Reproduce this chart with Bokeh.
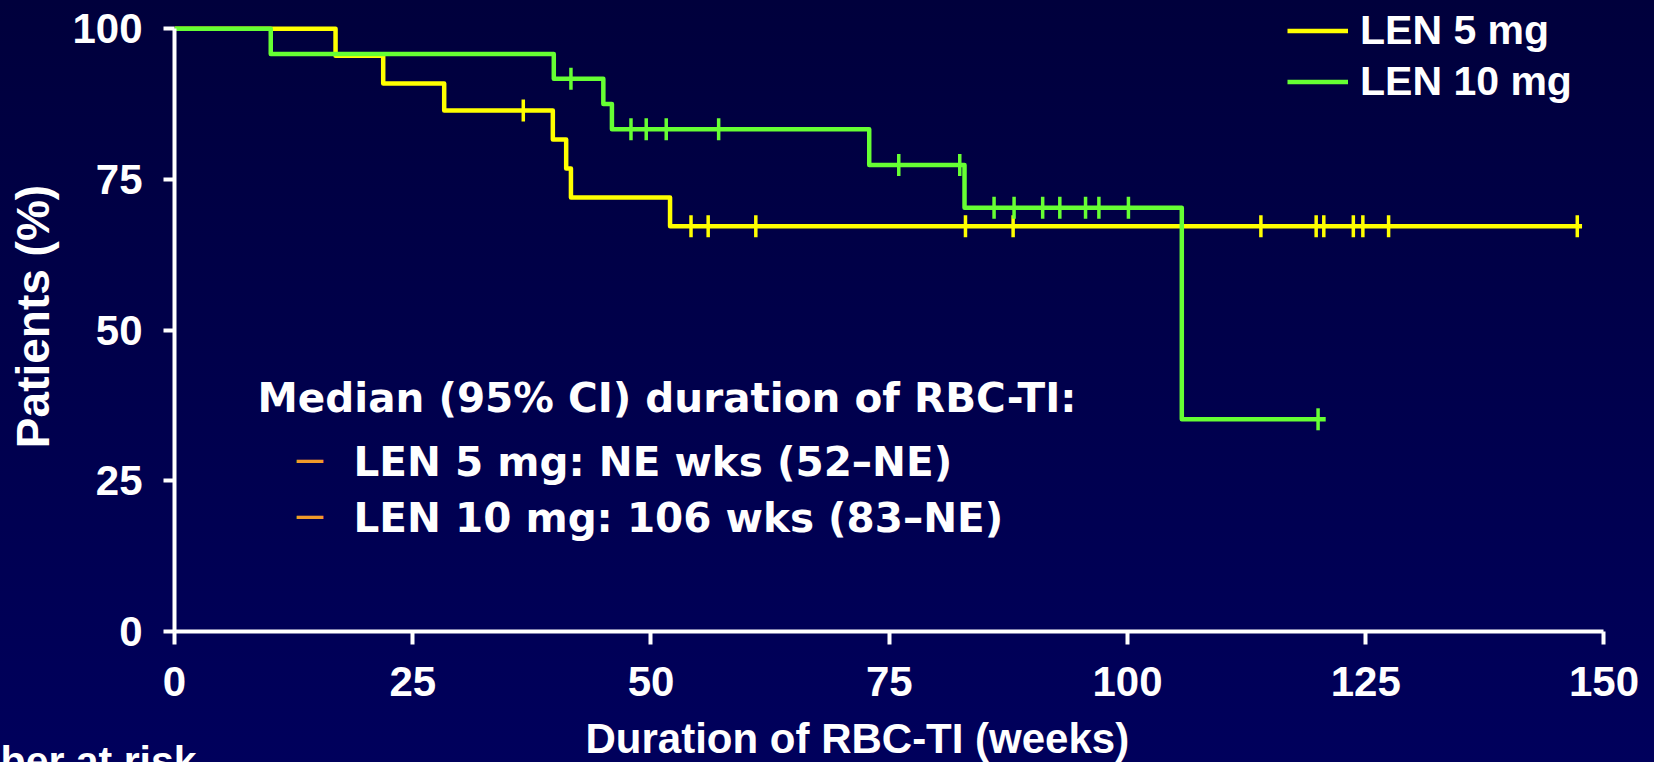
import numpy as np
from bokeh.plotting import figure
from bokeh.models import Range1d, FixedTicker, Label, Legend, LegendItem, Title
from bokeh.embed import file_html
from bokeh.resources import INLINE

# ---------------- data ----------------
series_names = ["LEN 5 mg", "LEN 10 mg"]
series_colors = ["#FFFF00", "#66FF33"]

# Kaplan-Meier steps (weeks, % of patients)
len5_times = [0, 16.9, 21.9, 28.3, 39.7, 41.1, 41.6, 52.0, 147.7]
len5_surv = [100, 95.5, 90.9, 86.4, 81.6, 76.8, 72.0, 67.2, 67.2]
len5_censor = [36.6, 54.2, 56.0, 61.0, 83.0, 88.0, 114.0, 119.8, 120.6,
               123.7, 124.7, 127.4, 147.2]

len10_times = [0, 10.1, 39.8, 45.0, 45.9, 72.9, 82.9, 105.7, 120.8]
len10_surv = [100, 95.8, 91.7, 87.5, 83.3, 77.4, 70.3, 35.2, 35.2]
len10_censor = [41.6, 47.9, 49.5, 51.6, 57.1, 76.0, 82.4, 86.0, 88.1, 91.1,
                92.9, 95.6, 97.0, 100.1, 120.0]

x_ticks = [0, 25, 50, 75, 100, 125, 150]
y_ticks = [0, 25, 50, 75, 100]

x_label = "Duration of RBC-TI (weeks)"
y_label = "Patients (%)"
median_title = "Median (95% CI) duration of RBC-TI:"
median_lines = ["LEN 5 mg: NE wks (52\u2013NE)", "LEN 10 mg: 106 wks (83\u2013NE)"]
risk_label = "Number at risk"


def censor_levels(times, surv, cens):
    t = np.asarray(times)
    s = np.asarray(surv)
    idx = np.searchsorted(t, np.asarray(cens), side="right") - 1
    return s[idx]


# ---------------- figure ----------------
p = figure(
    width=1654, height=762,
    x_range=Range1d(0, 151), y_range=Range1d(0, 104.5),
    output_backend="svg", toolbar_location=None, title=None,
    min_border_left=174, min_border_right=41,
    min_border_top=1, min_border_bottom=131,
    background_fill_alpha=0, border_fill_alpha=0,
    outline_line_color=None,
    styles={"background": "linear-gradient(to bottom, #00003c, #00005c)"},
)
p.grid.visible = False

FONT = "Liberation Sans"

for ax, ticks, bounds in ((p.xaxis, x_ticks, (0, 150)), (p.yaxis, y_ticks, (0, 100))):
    ax.ticker = FixedTicker(ticks=ticks)
    ax.bounds = bounds
    ax.axis_line_color = "white"
    ax.axis_line_width = 4
    ax.major_tick_line_color = "white"
    ax.major_tick_line_width = 4
    ax.major_tick_in = 0
    ax.minor_tick_line_color = None
    ax.major_label_text_color = "white"
    ax.major_label_text_font = FONT
    ax.major_label_text_font_style = "bold"
    ax.major_label_text_font_size = "42px"

p.xaxis.major_tick_out = 13
p.xaxis.major_label_standoff = 22
p.yaxis.major_tick_out = 11
p.yaxis.major_label_standoff = 21

p.yaxis.axis_label = y_label
p.yaxis.axis_label_text_color = "white"
p.yaxis.axis_label_text_font = FONT
p.yaxis.axis_label_text_font_style = "bold"
p.yaxis.axis_label_text_font_size = "46px"
p.yaxis.axis_label_standoff = 10

# x axis title, placed off-centre as in the reference
xtitle = Title(text=x_label, align="left", offset=411, standoff=13,
               text_font=FONT, text_font_style="bold", text_font_size="42px",
               text_color="white")
try:
    xtitle.padding = dict(left=0, right=0, top=14, bottom=0)
    xtitle.standoff = 0
except Exception:
    pass
p.add_layout(xtitle, "below")
# "Number at risk" heading, cut by the bottom/left edges as in the reference
p.add_layout(Title(text=risk_label, align="left", offset=-265, standoff=-48,
                   vertical_align="top",
                   text_font=FONT, text_font_style="bold", text_font_size="41px",
                   text_color="white"), "below")

renderers = []
for times, surv, cens, color in (
    (len5_times, len5_surv, len5_censor, series_colors[0]),
    (len10_times, len10_surv, len10_censor, series_colors[1]),
):
    r = p.step(x=times, y=surv, mode="after", line_color=color,
               line_width=4.5, line_join="round")
    renderers.append(r)
    p.scatter(x=cens, y=censor_levels(times, surv, cens), marker="dash",
              angle=np.pi / 2, size=22, line_color=color, line_width=3.5)

legend = Legend(
    items=[LegendItem(label=n, renderers=[r]) for n, r in zip(series_names, renderers)],
    location=(1113, 524),
    glyph_width=61, glyph_height=51, label_height=51, spacing=0,
    padding=0, margin=0, label_standoff=12,
    label_text_font=FONT, label_text_font_style="bold",
    label_text_font_size="41px", label_text_color="white",
    background_fill_alpha=0, border_line_alpha=0,
)
p.add_layout(legend)

# median annotation block
TXT = dict(x_units="screen", y_units="screen", text_font="DejaVu Sans",
           text_font_style="bold", text_font_size="40.5px", text_color="white",
           text_baseline="middle")
p.add_layout(Label(x=83, y=234, text=median_title, **TXT))
for txt, yy in zip(median_lines, (170, 114)):
    p.add_layout(Label(x=122, y=yy + 4, x_units="screen", y_units="screen", text="\u2013",
                       text_font=FONT, text_font_size="48px", text_color="#F09A2A",
                       text_baseline="middle"))
    p.add_layout(Label(x=179, y=yy, text=txt, **TXT))

open("out.html", "w").write(file_html(p, INLINE))
